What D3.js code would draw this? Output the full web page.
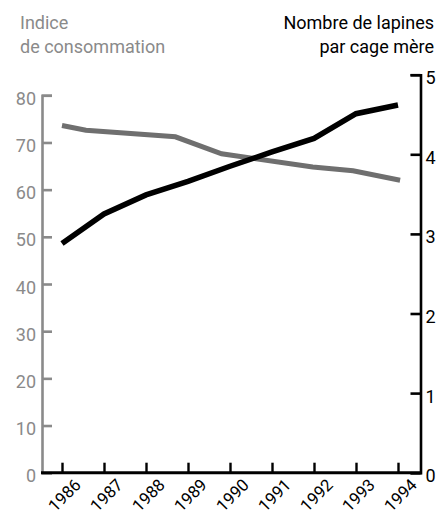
<!DOCTYPE html>
<html>
<head>
<meta charset="utf-8">
<script src="https://cdn.jsdelivr.net/npm/d3@7"></script>
<style>
  body { margin: 0; background: #fff; }
  svg text { font-family: Roboto, "Liberation Sans", sans-serif; }
</style>
</head>
<body>
<svg id="chart" width="442" height="515"></svg>
<script>
// years on the x axis
var years = [1986, 1987, 1988, 1989, 1990, 1991, 1992, 1993, 1994];

// black line : nombre de lapines par cage mère (right axis)
var lapines = [2.88, 3.25, 3.49, 3.66, 3.85, 4.03, 4.2, 4.51, 4.62];

// grey line : indice de consommation (left axis), its points are not on the year ticks
var indiceYears = [1986, 1986.57, 1988.7, 1989.8, 1991.97, 1992.93, 1994.05];
var indice = [73.6, 72.6, 71.2, 67.6, 64.8, 64.0, 62.0];

var leftTicks = [0, 10, 20, 30, 40, 50, 60, 70, 80];
var rightTicks = [0, 1, 2, 3, 4, 5];

var grey = "#8a8a8a";
var greyLine = "#6f6f6f";

var svg = d3.select("#chart");

var x = d3.scaleLinear().domain([1986, 1994]).range([62, 398]);
var yL = d3.scaleLinear().domain([0, 80]).range([472.7, 95.3]);
var yR = d3.scaleLinear().domain([0, 5]).range([472.7, 74.7]);

// titles
svg.append("text")
  .attr("x", 20).attr("y", 29)
  .attr("font-size", "18px").attr("fill", grey)
  .text("Indice");
svg.append("text")
  .attr("x", 20).attr("y", 53)
  .attr("font-size", "18px").attr("fill", grey)
  .text("de consommation");
svg.append("text")
  .attr("x", 434).attr("y", 29)
  .attr("font-size", "18px").attr("text-anchor", "end").attr("fill", "#000")
  .text("Nombre de lapines");
svg.append("text")
  .attr("x", 434).attr("y", 53)
  .attr("font-size", "18px").attr("text-anchor", "end").attr("fill", "#000")
  .text("par cage mère");

// left axis (grey)
var gL = svg.append("g")
  .attr("transform", "translate(42,0)")
  .call(d3.axisLeft(yL).tickValues(leftTicks).tickSize(-10).tickPadding(6));
gL.select(".domain").attr("stroke", grey).attr("stroke-width", 2.6);
gL.selectAll(".tick line").attr("stroke", grey).attr("stroke-width", 2.6);
gL.selectAll(".tick text")
  .attr("font-size", "18px").attr("fill", grey).attr("dy", "0.5em")
  .attr("font-family", "Roboto, 'Liberation Sans', sans-serif");

// right axis (black)
var gR = svg.append("g")
  .attr("transform", "translate(420.5,0)")
  .call(d3.axisRight(yR).tickValues(rightTicks).tickFormat(d3.format("d"))
    .tickSize(-10).tickPadding(5));
gR.select(".domain").attr("stroke", "#000").attr("stroke-width", 2.6);
gR.selectAll(".tick line").attr("stroke", "#000").attr("stroke-width", 2.6);
gR.selectAll(".tick text")
  .attr("font-size", "18px").attr("fill", "#000").attr("dy", "0.5em")
  .attr("font-family", "Roboto, 'Liberation Sans', sans-serif");

// x axis, ticks pointing up
var gX = svg.append("g")
  .attr("transform", "translate(0," + yL(0) + ")")
  .call(d3.axisBottom(x).tickValues(years).tickSize(-10).tickFormat(""));
gX.select(".domain").remove();
gX.selectAll(".tick line").attr("stroke", "#000").attr("stroke-width", 2.4);

svg.append("line")
  .attr("x1", 41).attr("x2", 421.8)
  .attr("y1", yL(0)).attr("y2", yL(0))
  .attr("stroke", "#000").attr("stroke-width", 3);

svg.selectAll(".year")
  .data(years)
  .enter().append("text")
  .attr("class", "year")
  .attr("transform", function(d) { return "translate(" + (x(d) + 20) + ",486) rotate(-45)"; })
  .attr("text-anchor", "end")
  .attr("font-size", "16.8px")
  .attr("fill", "#000")
  .text(function(d) { return d; });

// lines
var lineL = d3.line()
  .x(function(d, i) { return x(indiceYears[i]); })
  .y(function(d) { return yL(d); });

var lineR = d3.line()
  .x(function(d, i) { return x(years[i]); })
  .y(function(d) { return yR(d); });

svg.append("path")
  .datum(indice)
  .attr("d", lineL)
  .attr("fill", "none")
  .attr("stroke", greyLine)
  .attr("stroke-width", 5);

svg.append("path")
  .datum(lapines)
  .attr("d", lineR)
  .attr("fill", "none")
  .attr("stroke", "#000")
  .attr("stroke-width", 5.5);
</script>
</body>
</html>
